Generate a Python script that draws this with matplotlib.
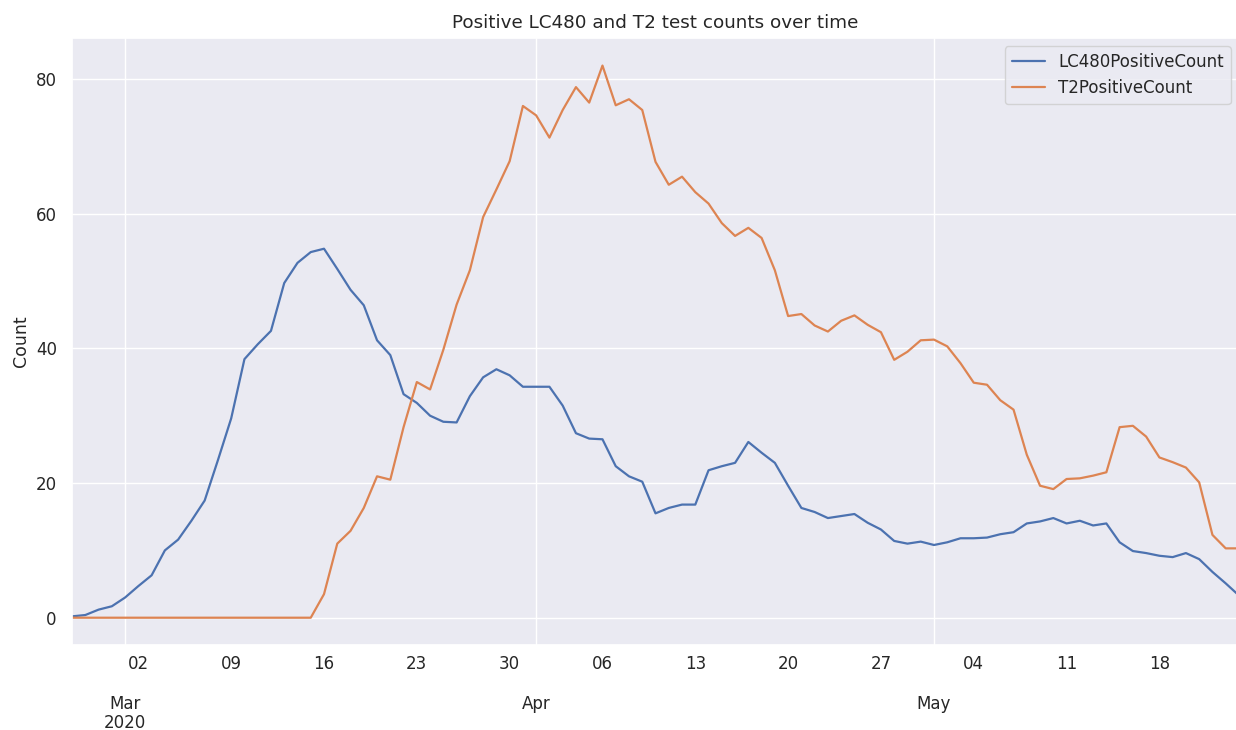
import pandas as pd
import matplotlib
matplotlib.use("Agg")
import matplotlib.pyplot as plt
import matplotlib.dates as mdates
import seaborn as sns

# daily values, 2020-02-26 .. 2020-05-24
start_date = "2020-02-26"

lc480 = [0.2, 0.4, 1.2, 1.7, 3.0, 4.7, 6.3, 10.0, 11.6, 14.4,
         17.4, 23.4, 29.6, 38.4, 40.6, 42.6, 49.7, 52.7, 54.3, 54.8,
         51.8, 48.7, 46.4, 41.2, 39.0, 33.2, 31.9, 30.0, 29.1, 29.0,
         32.9, 35.7, 36.9, 36.0, 34.3, 34.3, 34.3, 31.5, 27.4, 26.6,
         26.5, 22.5, 21.0, 20.2, 15.5, 16.3, 16.8, 16.8, 21.9, 22.5,
         23.0, 26.1, 24.5, 23.0, 19.6, 16.3, 15.7, 14.8, 15.1, 15.4,
         14.1, 13.1, 11.4, 11.0, 11.3, 10.8, 11.2, 11.8, 11.8, 11.9,
         12.4, 12.7, 14.0, 14.3, 14.8, 14.0, 14.4, 13.7, 14.0, 11.2,
         9.9, 9.6, 9.2, 9.0, 9.6, 8.7, 6.8, 5.1, 3.3]

t2 = [0, 0, 0, 0, 0, 0, 0, 0, 0, 0,
      0, 0, 0, 0, 0, 0, 0, 0, 0, 3.5,
      11.0, 12.9, 16.3, 21.0, 20.5, 28.3, 35.0, 33.9, 39.8, 46.5,
      51.6, 59.5, 63.6, 67.8, 76.0, 74.6, 71.3, 75.4, 78.8, 76.5,
      82.0, 76.1, 77.0, 75.4, 67.7, 64.3, 65.5, 63.2, 61.5, 58.6,
      56.7, 57.9, 56.4, 51.6, 44.8, 45.1, 43.4, 42.5, 44.1, 44.9,
      43.5, 42.4, 38.3, 39.5, 41.2, 41.3, 40.3, 37.8, 34.9, 34.6,
      32.3, 30.9, 24.2, 19.6, 19.1, 20.6, 20.7, 21.1, 21.6, 28.3,
      28.5, 26.9, 23.8, 23.1, 22.3, 20.1, 12.3, 10.3, 10.3]

dates = pd.date_range(start_date, periods=len(lc480), freq="D")

sns.set_theme(style="darkgrid")
plt.rcParams['font.family'] = ['DejaVu Sans']

fig, ax = plt.subplots(figsize=(12.36, 7.30), dpi=100)
fig.subplots_adjust(left=0.0583, right=1.0024, top=0.948, bottom=0.116)

ax.plot(dates, lc480, color="#4C72B0", lw=1.6, label="LC480PositiveCount")
ax.plot(dates, t2, color="#DD8452", lw=1.6, label="T2PositiveCount")

ax.set_xlim(dates[0], dates[-1])
ax.set_ylim(-4.1, 86.1)
ax.set_yticks([0, 20, 40, 60, 80])

# month ticks below, weekly (monday) ticks above
ax.xaxis.set_major_locator(mdates.MonthLocator())
month_labels = {3: "Mar\n2020", 4: "Apr", 5: "May"}
ax.xaxis.set_major_formatter(plt.FuncFormatter(
    lambda v, pos: month_labels.get(mdates.num2date(v).month, "")))
ax.xaxis.set_minor_locator(mdates.WeekdayLocator(byweekday=mdates.MO))
ax.xaxis.set_minor_formatter(mdates.DateFormatter("%d"))
ax.tick_params(axis="x", which="major", pad=30, labelsize=12)
ax.tick_params(axis="x", which="minor", pad=3.2, labelsize=12)
ax.tick_params(axis="y", labelsize=12, pad=5)
ax.grid(False, which="minor")
for lbl in ax.xaxis.get_majorticklabels():
    lbl.set_linespacing(1.05)

ax.set_ylabel("Count", fontsize=12.5)
ax.set_title("Positive LC480 and T2 test counts over time", fontsize=13.25, pad=7.5)
ax.legend(loc="upper right", fontsize=12)

fig.savefig("out.png")
